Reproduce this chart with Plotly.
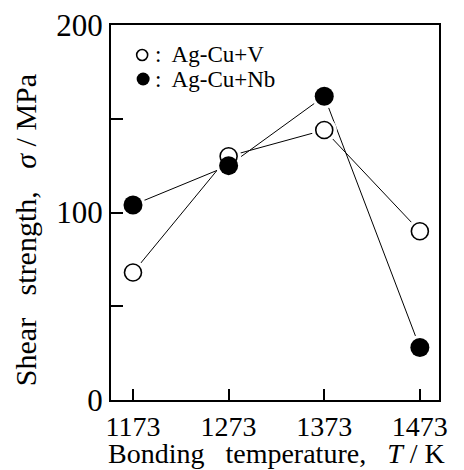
import plotly.graph_objects as go

temps = [1173, 1273, 1373, 1473]
v_vals = [68, 130, 144, 90]
nb_vals = [104, 125, 162, 28]
y_ticks = [0, 50, 100, 150, 200]
y_tick_text = ["0", "", "100", "", "200"]
x_tick_text = ["1173", "1273", "1373", "1473"]
legend_labels = [":  Ag-Cu+V", ":  Ag-Cu+Nb"]

font = "Liberation Serif, Times New Roman, serif"

fig = go.Figure()
# connecting lines
for vals in (nb_vals, v_vals):
    fig.add_trace(go.Scatter(x=temps, y=vals, mode="lines",
                             line=dict(color="black", width=1), showlegend=False,
                             hoverinfo="skip"))
# white halos so lines stop short of the markers
for vals in (nb_vals, v_vals):
    fig.add_trace(go.Scatter(x=temps, y=vals, mode="markers",
                             marker=dict(size=25, color="white"), showlegend=False,
                             hoverinfo="skip"))
fig.add_trace(go.Scatter(x=temps, y=v_vals, mode="markers", name="Ag-Cu+V",
                         marker=dict(size=17, color="white", line=dict(color="black", width=1.6)),
                         showlegend=False))
fig.add_trace(go.Scatter(x=temps, y=nb_vals, mode="markers", name="Ag-Cu+Nb",
                         marker=dict(size=19, color="black"),
                         showlegend=False))

# legend drawn inside the plot: symbol shapes + text
leg_x = 0.095
leg_y = [0.92, 0.856]
fig.add_shape(type="circle", xref="paper", yref="paper", xsizemode="pixel", ysizemode="pixel",
              xanchor=leg_x, yanchor=leg_y[0], x0=-5.5, x1=5.5, y0=-5.5, y1=5.5,
              line=dict(color="black", width=1.6), fillcolor="white")
fig.add_shape(type="circle", xref="paper", yref="paper", xsizemode="pixel", ysizemode="pixel",
              xanchor=leg_x + 0.003, yanchor=leg_y[1], x0=-6.5, x1=6.5, y0=-6.5, y1=6.5,
              line=dict(color="black", width=0), fillcolor="black")
for lbl, yy in zip(legend_labels, leg_y):
    fig.add_annotation(xref="paper", yref="paper", x=0.132, y=yy, xanchor="left",
                       yanchor="middle", text=lbl, showarrow=False, borderpad=0,
                       font=dict(size=23, family=font, color="black"))

# axis titles
fig.add_annotation(xref="paper", yref="paper", x=0.5046, y=-0.1875, xanchor="center",
                   yanchor="bottom", showarrow=False, borderpad=0,
                   text="Bonding   temperature,   <i>T</i> / K",
                   font=dict(size=28, family=font, color="black"))
fig.add_annotation(xref="paper", yref="paper", x=-0.262, y=0.453, xanchor="center",
                   yanchor="middle", showarrow=False, textangle=-90,
                   text="Shear   strength,   <i>σ</i> / MPa",
                   font=dict(size=30, family=font, color="black"))

fig.update_layout(
    width=464, height=470,
    margin=dict(l=111, r=25, t=25, b=70),
    paper_bgcolor="white", plot_bgcolor="white",
    font=dict(family=font, color="black"),
    showlegend=False,
    xaxis=dict(range=[1150, 1493], tickvals=temps, ticktext=x_tick_text,
               ticks="inside", ticklen=11, tickwidth=1.5, tickcolor="black",
               showline=True, linecolor="black", linewidth=2, mirror=True,
               showgrid=False, zeroline=False, automargin=False,
               tickfont=dict(size=28, family=font)),
    yaxis=dict(range=[0, 200], tickvals=y_ticks, ticktext=y_tick_text,
               ticks="inside", ticklen=12, tickwidth=1.5, tickcolor="black",
               showline=True, linecolor="black", linewidth=2, mirror=True,
               showgrid=False, zeroline=False, automargin=False,
               tickfont=dict(size=31, family=font)),
)

fig.write_html("out.html")
